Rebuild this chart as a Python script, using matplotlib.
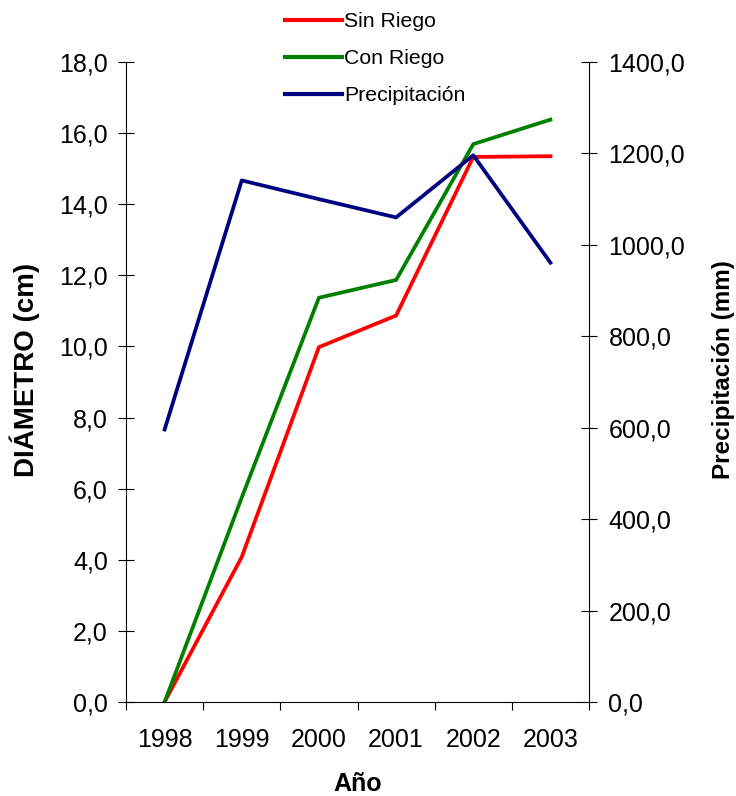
import matplotlib
matplotlib.use("Agg")
import matplotlib.pyplot as plt
from matplotlib.ticker import FuncFormatter
import numpy as np

plt.rcParams['font.family'] = ['Liberation Sans', 'DejaVu Sans']

# data
years = ['1998', '1999', '2000', '2001', '2002', '2003']
sin_riego = [0.0, 4.08, 9.98, 10.87, 15.33, 15.35]
con_riego = [0.0, 5.75, 11.37, 11.87, 15.69, 16.38]
precip = [596, 1141, 1100, 1060, 1196, 961]

x = np.arange(len(years))
comma = FuncFormatter(lambda v, p: f'{v:.1f}'.replace('.', ','))

fig = plt.figure(figsize=(7.36, 7.96), dpi=100)
ax = fig.add_axes([0.1712, 0.1181, 0.6291, 0.804])
ax2 = ax.twinx()

l1, = ax.plot(x, sin_riego, color='#FF0000', lw=2.7, label='Sin Riego')
l2, = ax.plot(x, con_riego, color='#008000', lw=2.7, label='Con Riego')
l3, = ax2.plot(x, precip, color='#000080', lw=2.7, label='Precipitación')

ax.set_xlim(-0.5, 5.5)
ax.set_ylim(0, 18)
ax2.set_ylim(0, 1400)
ax.set_yticks(np.arange(0, 19, 2))
ax2.set_yticks(np.arange(0, 1401, 200))
ax.yaxis.set_major_formatter(comma)
ax2.yaxis.set_major_formatter(comma)

ax.set_xticks(x)
ax.set_xticklabels(years)
ax.set_xticks(np.arange(-0.5, 6, 1), minor=True)
ax.tick_params(axis='x', which='major', length=0, labelsize=18, pad=19)
ax.tick_params(axis='x', which='minor', length=5.5, direction='out', width=0.8)
ax.tick_params(axis='y', direction='inout', length=12, width=0.8, labelsize=18, pad=7)
ax2.tick_params(axis='y', direction='inout', length=12, width=0.8, labelsize=18, pad=8)

for a in (ax, ax2):
    a.spines['top'].set_visible(False)
ax.spines['right'].set_visible(False)
ax2.spines['left'].set_visible(False)
ax2.spines['bottom'].set_visible(False)

ax.set_ylabel('DIÁMETRO (cm)', fontsize=20, fontweight='bold', labelpad=14)
ax2.set_ylabel('Precipitación (mm)', fontsize=17.5, fontweight='bold', rotation=90, labelpad=19)
ax.yaxis.label.set_y(0.519)
ax2.yaxis.label.set_y(0.519)
ax.set_xlabel('Año', fontsize=18, fontweight='bold', labelpad=14)

leg = fig.legend(handles=[l1, l2, l3], loc='upper center', bbox_to_anchor=(0.51, 1.005),
                 frameon=False, fontsize=15.3, handlelength=2.7, labelspacing=0.85,
                 handletextpad=0.1, borderpad=0.25)
for h in leg.legend_handles:
    h.set_linewidth(3)

fig.savefig('out.png', dpi=100)
